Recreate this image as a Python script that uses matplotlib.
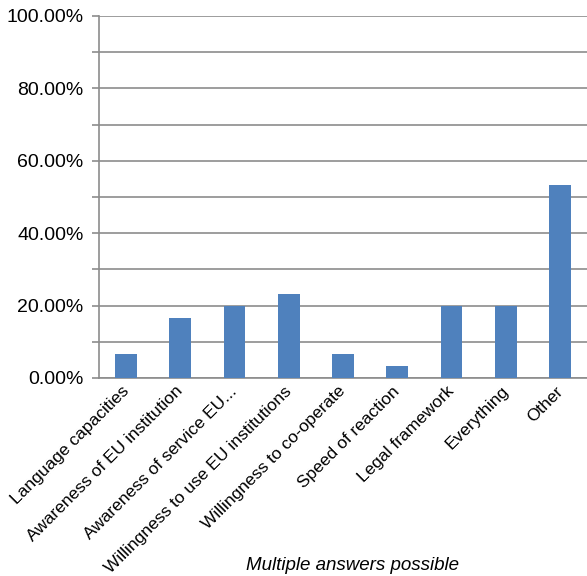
import matplotlib.pyplot as plt
from matplotlib.ticker import MultipleLocator, FuncFormatter
from matplotlib.transforms import ScaledTranslation

plt.rcParams['font.family'] = ['Liberation Sans', 'DejaVu Sans']

kategorie = ["Language capacities", "Awareness of EU institution", "Awareness of service EU...",
             "Willingness to use EU institutions", "Willingness to co-operate", "Speed of reaction",
             "Legal framework", "Everything", "Other"]
wartosci = [6.67, 16.67, 20.0, 23.33, 6.67, 3.33, 20.0, 20.0, 53.33]

fig = plt.figure(figsize=(5.87, 5.76), dpi=100)
ax = fig.add_axes([99/587, 1-378/576, 488/587, 362/576])

x = range(len(kategorie))
ax.bar(x, wartosci, width=0.4, color="#4F81BD", zorder=3)

ax.set_xlim(-0.5, len(kategorie) - 0.5)
ax.set_ylim(0, 100)
ax.yaxis.set_major_locator(MultipleLocator(20))
ax.yaxis.set_minor_locator(MultipleLocator(10))
ax.yaxis.set_major_formatter(FuncFormatter(lambda v, p: "%.2f%%" % v))
ax.grid(True, axis="y", which="both", color="#8c8c8c", linewidth=1.2, zorder=0)
ax.tick_params(axis="y", which="both", length=5, color="#8c8c8c", width=1.2, labelsize=14, pad=6)
ax.tick_params(axis="x", length=0, labelsize=12.5, pad=4)

ax.set_xticks(list(x))
ax.set_xticklabels(kategorie, rotation=45, ha="right", rotation_mode="anchor")
# przesuniecie etykiet troche w lewo jak w oryginale
przes = ScaledTranslation(-0.05, 0, fig.dpi_scale_trans)
for lab in ax.get_xticklabels():
    lab.set_transform(lab.get_transform() + przes)

for s in ["top", "right"]:
    ax.spines[s].set_visible(False)
for s in ["left", "bottom"]:
    ax.spines[s].set_color("#8c8c8c")
    ax.spines[s].set_linewidth(1.2)

fig.text(352/587, 1-565/576, "Multiple answers possible", ha="center", va="center",
         fontsize=13.5, style="italic")

fig.savefig("out.png", dpi=100)
